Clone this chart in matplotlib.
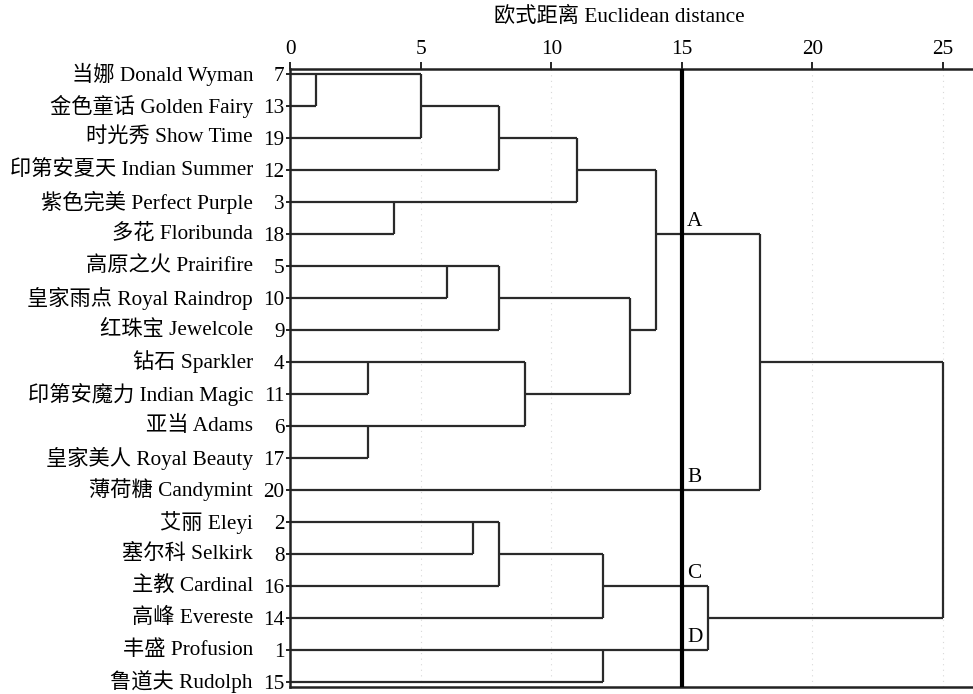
import matplotlib
matplotlib.use('Agg')
import matplotlib.pyplot as plt
from matplotlib.transforms import blended_transform_factory
import math

plt.rcParams['font.family'] = ['Liberation Serif', 'Noto Sans CJK SC']
plt.rcParams['font.size'] = 15.3

# leaves, top to bottom
leaf_ids = [7, 13, 19, 12, 3, 18, 5, 10, 9, 4, 11, 6, 17, 20, 2, 8, 16, 14, 1, 15]
leaf_names = ['当娜 Donald Wyman', '金色童话 Golden Fairy', '时光秀 Show Time',
              '印第安夏天 Indian Summer', '紫色完美 Perfect Purple', '多花 Floribunda',
              '高原之火 Prairifire', '皇家雨点 Royal Raindrop', '红珠宝 Jewelcole',
              '钻石 Sparkler', '印第安魔力 Indian Magic', '亚当 Adams',
              '皇家美人 Royal Beauty', '薄荷糖 Candymint', '艾丽 Eleyi',
              '塞尔科 Selkirk', '主教 Cardinal', '高峰 Evereste', '丰盛 Profusion',
              '鲁道夫 Rudolph']

# merges: (cluster a, cluster b, distance); leaves are 0..19 by row, new clusters 20, 21, ...
merges = [(0, 1, 1), (20, 2, 5), (21, 3, 8), (4, 5, 4), (22, 23, 11),
          (6, 7, 6), (25, 8, 8), (9, 10, 3), (11, 12, 3), (27, 28, 9),
          (26, 29, 13), (24, 30, 14), (31, 13, 18),
          (14, 15, 7), (33, 16, 8), (34, 17, 12), (18, 19, 12), (35, 36, 16),
          (32, 37, 25)]

cut = 15
group_labels = ['A', 'B', 'C', 'D']
group_rows = [5, 13, 16, 18]

fig = plt.figure(figsize=(9.73, 6.94), dpi=100)
ax = fig.add_axes([290 / 973, 7 / 694, 683 / 973, 618 / 694])

lc = '#2a2a2a'
pos = {i: i for i in range(len(leaf_ids))}
height = {i: 0 for i in range(len(leaf_ids))}
for k, (a, b, h) in enumerate(merges):
    new = len(leaf_ids) + k
    for c in (a, b):
        ax.plot([height[c], h], [pos[c], pos[c]], color=lc, lw=1.6, solid_capstyle='butt')
    ax.plot([h, h], [pos[a], pos[b]], color=lc, lw=1.6, solid_capstyle='butt')
    pos[new] = math.floor((pos[a] + pos[b]) / 2)
    height[new] = h

for g in [5, 10, 15, 20, 25]:
    ax.axvline(g, color='#d8d8d8', lw=0.8, ls=(0, (1, 4)), zorder=0)

ax.axvline(cut, color='black', lw=3, zorder=5)
for lab, r in zip(group_labels, group_rows):
    ax.text(cut + 0.2, r - 0.1, lab, ha='left', va='bottom')

ax.set_xlim(0, 683 / 26.12)
ax.set_ylim(19.156, -0.156)
ax.xaxis.tick_top()
ax.set_xticks([0, 5, 10, 15, 20, 25])
ax.set_yticks(range(len(leaf_ids)))
ax.set_yticklabels([str(i) for i in leaf_ids])
ax.tick_params(axis='x', direction='out', length=5, width=1.2, pad=2)
ax.tick_params(axis='y', direction='out', length=3, width=1.2, pad=1)
ax.spines['right'].set_visible(False)
for s in ['top', 'left', 'bottom']:
    ax.spines[s].set_linewidth(1.8)
    ax.spines[s].set_color('#222222')

tr = blended_transform_factory(fig.transFigure, ax.transData)
for r, name in enumerate(leaf_names):
    ax.text(253 / 973, r, name, transform=tr, ha='right', va='center')

fig.text(619 / 973, 1 - 17 / 694, '欧式距离 Euclidean distance', ha='center', va='center')

fig.savefig('out.png', dpi=100)
